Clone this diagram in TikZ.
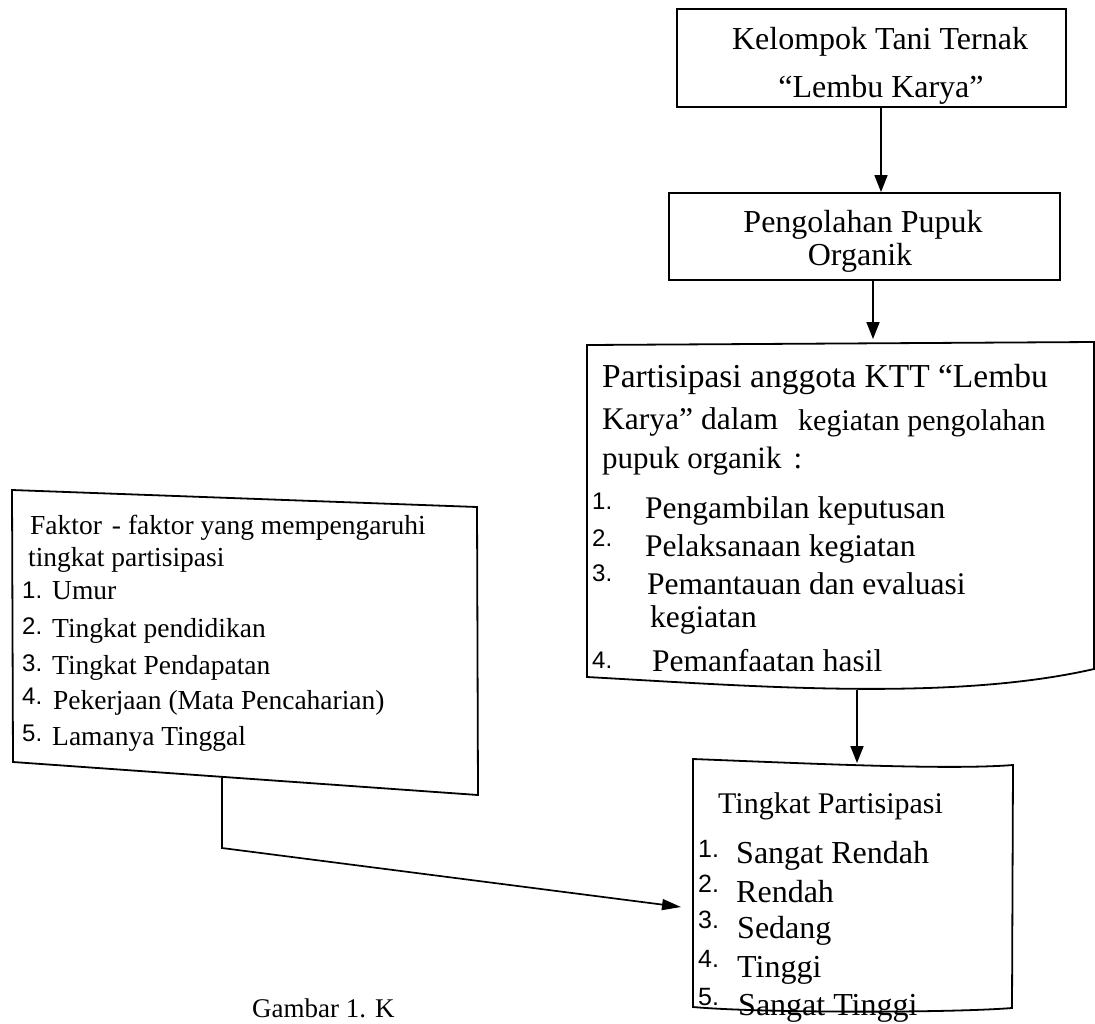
\documentclass[tikz,border=0pt]{standalone}
\usepackage{fontspec}
\setmainfont{Liberation Serif}
\newfontfamily\numfont{Liberation Sans}
\usetikzlibrary{arrows.meta}
\begin{document}
\begin{tikzpicture}[x=1pt,y=-1pt,
  box/.style={draw, line width=1.8pt},
  arr/.style={line width=1.7pt, -{Triangle[length=17pt,width=13pt]}},
  tw/.style={inner sep=0pt, anchor=base west},
  tc/.style={inner sep=0pt, anchor=base},
  fs/.style={font=\fontsize{#1}{#1}\selectfont},
  fn/.style={font=\numfont\fontsize{#1}{#1}\selectfont}]
\useasboundingbox[fill=white] (0,0) rectangle (1095,1023);

% top boxes
\node[box, minimum width=389pt, minimum height=98pt, inner sep=0pt] (b1) at (871.5,58) {};
\node[tc,fs=32] (t1a) at (880,49) {Kelompok Tani Ternak};
\node[tc,fs=32] (t1b) at (881,97) {“Lembu Karya”};

\node[box, minimum width=391pt, minimum height=87pt, inner sep=0pt] (b2) at (864.5,236.5) {};
\node[tc,fs=32] (t2a) at (863,232) {Pengolahan Pupuk};
\node[tc,fs=32] (t2b) at (860,265) {Organik};

% big participation box
\coordinate (g1) at (587,345);
\coordinate (g2) at (1094,342);
\coordinate (g3) at (1094,669);
\coordinate (g4) at (587,677);
\draw[box] (g1) -- (g2) -- (g3) .. controls (950,702) and (750,686) .. (g4) -- cycle;
\node[tw,fs=33.5] (p1) at (602,387) {Partisipasi anggota KTT “Lembu};
\node[tw,fs=31.5] (p2a) at (602,429) {Karya” dalam};
\node[tw,fs=30] (p2b) at (798,430) {kegiatan pengolahan};
\node[tw,fs=31] (p3) at (602,468) {pupuk organik\hspace{12pt}:};
\node[tw,fn=24] (pn1) at (592,509) {1.};
\node[tw,fn=24] (pn2) at (592,546) {2.};
\node[tw,fn=24] (pn3) at (592,581) {3.};
\node[tw,fn=24] (pn4) at (592,668) {4.};
\node[tw,fs=31.5] (pi1) at (645,518) {Pengambilan keputusan};
\node[tw,fs=31.5] (pi2) at (645,556) {Pelaksanaan kegiatan};
\node[tw,fs=31.5] (pi3) at (647,594) {Pemantauan dan evaluasi};
\node[tw,fs=31.5] (pi3b) at (650,627) {kegiatan};
\node[tw,fs=31.5] (pi4) at (652,671) {Pemanfaatan hasil};

% Tingkat Partisipasi box
\coordinate (k1) at (693,759);
\coordinate (k2) at (1013,765);
\coordinate (k3) at (1012,1008);
\coordinate (k4) at (693,1007);
\draw[box] (k1) .. controls (820,764) and (950,770) .. (k2) -- (k3)
  .. controls (950,1013) and (760,1013) .. (k4) -- cycle;
\node[tw,fs=30] (tk) at (718,813) {Tingkat Partisipasi};
\node[tw,fn=25] (kn1) at (698,857) {1.};
\node[tw,fn=25] (kn2) at (698,892) {2.};
\node[tw,fn=25] (kn3) at (698,928) {3.};
\node[tw,fn=25] (kn4) at (698,967) {4.};
\node[tw,fn=25] (kn5) at (698,1005) {5.};
\node[tw,fs=32] (ki1) at (736,863) {Sangat Rendah};
\node[tw,fs=32] (ki2) at (736,902) {Rendah};
\node[tw,fs=32] (ki3) at (737,938) {Sedang};
\node[tw,fs=32] (ki4) at (737,977) {Tinggi};
\node[tw,fs=32] (ki5) at (738,1015) {Sangat Tinggi};

% left factor box
\coordinate (l1) at (12,490);
\coordinate (l2) at (477,507);
\coordinate (l3) at (478,795);
\coordinate (l4) at (13,762);
\draw[box] (l1) -- (l2) -- (l3) -- (l4) -- cycle;
\node[tw,fs=27.5] (f0) at (30,534) {Faktor\hspace{10pt}- faktor yang mempengaruhi};
\node[tw,fs=27.5] (f0b) at (28,566) {tingkat partisipasi};
\node[tw,fn=24] (fn1) at (22,598) {1.};
\node[tw,fn=24] (fn2) at (22,634) {2.};
\node[tw,fn=24] (fn3) at (22,671) {3.};
\node[tw,fn=24] (fn4) at (22,704) {4.};
\node[tw,fn=24] (fn5) at (22,741) {5.};
\node[tw,fs=27.5] (fi1) at (52,599) {Umur};
\node[tw,fs=27.5] (fi2) at (52,637) {Tingkat pendidikan};
\node[tw,fs=27.5] (fi3) at (52,674) {Tingkat Pendapatan};
\node[tw,fs=27.5] (fi4) at (53,709) {Pekerjaan (Mata Pencaharian)};
\node[tw,fs=27.5] (fi5) at (52,745) {Lamanya Tinggal};

% connectors
\coordinate (ax1) at (881,0);
\coordinate (ax2) at (873,339);
\draw[arr] (b1.south -| ax1) -- (b2.north -| ax1);
\draw[arr] (b2.south -| ax2) -- (ax2);
\coordinate (bigbot) at (857,690);
\coordinate (tktop) at (857,763);
\draw[arr] (bigbot) -- (tktop);
\coordinate (lb) at (222,776);
\coordinate (lc) at (222,848);
\coordinate (lt) at (681,907);
\draw[line width=1.7pt, -{Triangle[length=19pt,width=11pt]}] (lb) -- (lc) -- (lt);

% caption
\node[tw,fs=27] (cap) at (252,1017) {Gambar 1. K};
\end{tikzpicture}
\end{document}
